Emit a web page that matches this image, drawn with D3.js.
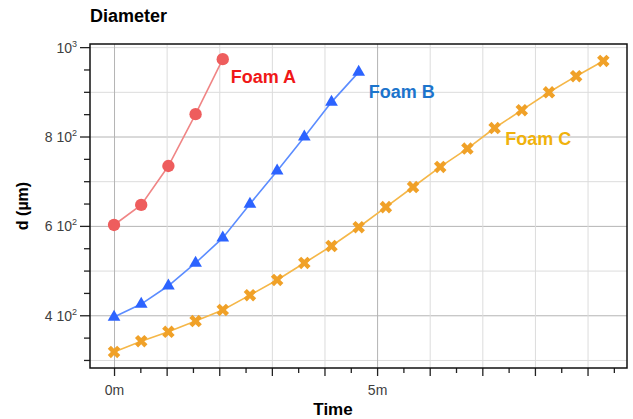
<!DOCTYPE html>
<html>
<head>
<meta charset="utf-8">
<script src="https://cdn.jsdelivr.net/npm/d3@7"></script>
<style>
  html, body { margin: 0; padding: 0; background: #fff; }
  svg { display: block; font-family: "Liberation Sans", Arial, sans-serif; }
</style>
</head>
<body>
<svg id="chart" width="633" height="419"></svg>
<script>
// ---- data ----
const timesA = [0, 31, 62, 93, 124];                                   // seconds
const foamA  = [602, 647, 734, 850, 973];
const timesB = [0, 31, 62, 93, 124, 155, 186, 217, 248, 279];
const foamB  = [396, 425, 466, 517, 573, 649, 723, 799, 877, 944];
const timesC = [0, 31, 62, 93, 124, 155, 186, 217, 248, 279, 310, 341, 372, 403, 434, 465, 496, 527, 558];
const foamC  = [318, 342, 363, 387, 412, 445, 479, 517, 555, 597, 642, 687, 732, 773, 819, 859, 899, 935, 969];
const seriesNames = ["Foam A", "Foam B", "Foam C"];
const yTickLabels = [400, 600, 800, 1000];
const xTickLabels = [0, 300];        // seconds -> "0m", "5m"

// ---- layout ----
const svg = d3.select("#chart");
const L = 90, R = 627, T = 44, B = 368;

const x = d3.scaleLinear().domain([-27.4, 585]).range([L, R]);
const y = d3.scaleLinear().domain([282, 1007]).range([B, T]);

const yMinor = d3.range(300, 1001, 50);
const yGrid = d3.range(300, 1001, 100);
const xMinor = d3.range(0, 571, 30);
const xGrid = d3.range(0, 571, 60);

// grid
const g = svg.append("g");
g.selectAll(".hg").data(yGrid).join("line")
  .attr("x1", L).attr("x2", R)
  .attr("y1", d => y(d) + 0.5).attr("y2", d => y(d) + 0.5)
  .attr("stroke", d => yTickLabels.includes(d) && d !== 1000 ? "#b4b4b4" : "#dcdcdc")
  .attr("stroke-width", 1);
g.selectAll(".vg").data(xGrid).join("line")
  .attr("y1", T).attr("y2", B)
  .attr("x1", d => x(d) + 0.5).attr("x2", d => x(d) + 0.5)
  .attr("stroke", d => xTickLabels.includes(d) ? "#b4b4b4" : "#dcdcdc")
  .attr("stroke-width", 1);

// axes
const yAxis = d3.axisLeft(y).tickValues(yMinor).tickFormat("").tickSizeOuter(0);
const ya = svg.append("g").attr("transform", `translate(${L},0)`).call(yAxis);
ya.select(".domain").remove();
ya.selectAll(".tick line")
  .attr("x2", d => yTickLabels.includes(d) ? -10 : -6)
  .attr("stroke", "#222").attr("stroke-width", 1.3);
ya.selectAll(".tick").each(function(d) {
  if (!yTickLabels.includes(d)) return;
  const t = d3.select(this).append("text")
    .attr("x", -13).attr("dy", "0.35em")
    .attr("text-anchor", "end")
    .attr("fill", "#404040")
    .attr("font-size", 14);
  if (d === 1000) {
    t.append("tspan").text("10");
    t.append("tspan").attr("font-size", 9).attr("dy", -6).text("3");
  } else {
    t.append("tspan").text(`${d / 100} 10`);
    t.append("tspan").attr("font-size", 9).attr("dy", -6).text("2");
  }
});

const xAxis = d3.axisBottom(x).tickValues(xMinor).tickFormat("").tickSizeOuter(0);
const xa = svg.append("g").attr("transform", `translate(0,${B})`).call(xAxis);
xa.select(".domain").remove();
xa.selectAll(".tick line")
  .attr("y2", d => d % 60 === 0 ? 8 : 5)
  .attr("stroke", "#222").attr("stroke-width", 1.3);
xa.selectAll(".tick").filter(d => xTickLabels.includes(d))
  .append("text")
  .attr("y", 22).attr("dy", "0.35em")
  .attr("text-anchor", "middle")
  .attr("fill", "#404040")
  .attr("font-size", 14)
  .text(d => `${d / 60}m`);

// frame
svg.append("rect")
  .attr("x", L).attr("y", T).attr("width", R - L).attr("height", B - T)
  .attr("fill", "none").attr("stroke", "#111").attr("stroke-width", 1.5);

// series
const series = [
  { name: seriesNames[0], t: timesA, v: foamA, line: "#f08585", fill: "#ee5d5d", sym: d3.symbolCircle, size: 120, rot: 0, label: "#f01818" },
  { name: seriesNames[1], t: timesB, v: foamB, line: "#5b8cff", fill: "#2c63ff", sym: d3.symbolTriangle, size: 70, rot: 0, label: "#1c74cc" },
  { name: seriesNames[2], t: timesC, v: foamC, line: "#f5b748", fill: "#f0a128", sym: d3.symbolCross, size: 98, rot: 45, label: "#f0b20c" }
];

const line = d3.line().x(d => x(d[0])).y(d => y(d[1]));
series.forEach(s => {
  const pts = s.t.map((t, i) => [t, s.v[i]]);
  svg.append("path").datum(pts)
    .attr("d", line).attr("fill", "none")
    .attr("stroke", s.line).attr("stroke-width", 1.6);
  svg.append("g").selectAll("path").data(pts).join("path")
    .attr("d", d3.symbol().type(s.sym).size(s.size))
    .attr("transform", d => `translate(${x(d[0])},${y(d[1])}) rotate(${s.rot})`)
    .attr("fill", s.fill);
});

// series labels (placed near last points)
const labelPos = [
  { dx: 8, dy: 24 },
  { dx: 10, dy: 26 },
  { dx: -98, dy: 84 }
];
series.forEach((s, i) => {
  const lt = s.t[s.t.length - 1], lv = s.v[s.v.length - 1];
  svg.append("text")
    .attr("x", x(lt) + labelPos[i].dx)
    .attr("y", y(lv) + labelPos[i].dy)
    .attr("fill", s.label)
    .attr("font-size", 18).attr("font-weight", "bold")
    .text(s.name);
});

// titles
svg.append("text").attr("x", 90).attr("y", 22)
  .attr("font-size", 18).attr("font-weight", "bold").attr("fill", "#000")
  .text("Diameter");
svg.append("text").attr("x", 333).attr("y", 415)
  .attr("text-anchor", "middle")
  .attr("font-size", 17).attr("font-weight", "bold").attr("fill", "#000")
  .text("Time");
svg.append("text")
  .attr("transform", `translate(28,${(T + B) / 2}) rotate(-90)`)
  .attr("text-anchor", "middle")
  .attr("font-size", 16).attr("font-weight", "bold").attr("fill", "#000")
  .text("d (µm)");
</script>
</body>
</html>
